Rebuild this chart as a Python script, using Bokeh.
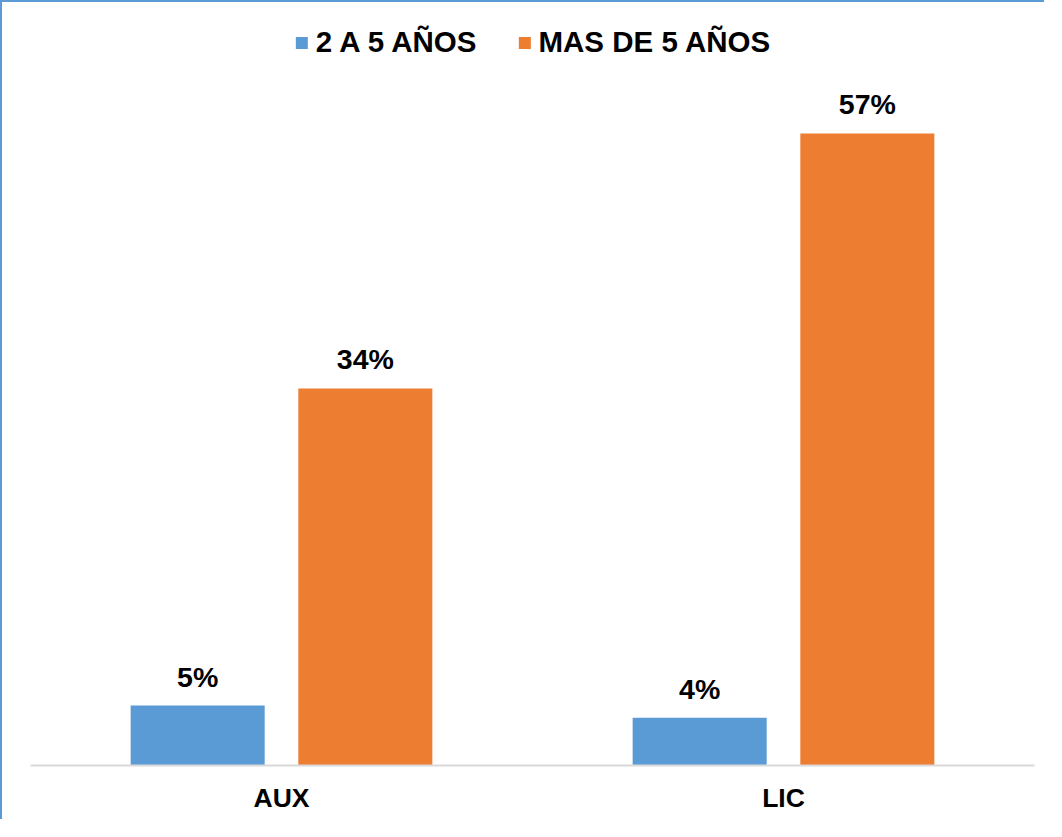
from bokeh.plotting import figure
from bokeh.models import ColumnDataSource, FactorRange, Range1d, Legend, LegendItem
from bokeh.transform import dodge
from bokeh.core.properties import value
from bokeh.embed import file_html
from bokeh.resources import INLINE

categories = ["AUX", "LIC"]
series_names = ["2 A 5 AÑOS", "MAS DE 5 AÑOS"]
v_2a5 = [5.4, 4.3]
v_mas5 = [34, 57]
colors = ["#5b9bd5", "#ed7d31"]

FONT = "Liberation Sans"

src = ColumnDataSource(dict(
    cat=categories,
    a=v_2a5,
    b=v_mas5,
    la=[f"{round(v)}%" for v in v_2a5],
    lb=[f"{round(v)}%" for v in v_mas5],
))

p = figure(x_range=FactorRange(*categories, range_padding=0),
           y_range=Range1d(0, 67.9),
           width=1044, height=819,
           output_backend="svg", toolbar_location=None,
           min_border_left=28, min_border_right=12,
           min_border_top=10, min_border_bottom=56)
p.styles = {"border-left": "2px solid #5b9bd5", "border-top": "2px solid #5b9bd5"}

off = 0.167
bw = 0.267
r1 = p.vbar(x=dodge("cat", -off, range=p.x_range), top="a", width=bw, source=src,
            fill_color=colors[0], line_color=None)
r2 = p.vbar(x=dodge("cat", off, range=p.x_range), top="b", width=bw, source=src,
            fill_color=colors[1], line_color=None)

p.text(x=dodge("cat", -off, range=p.x_range), y="a", text="la", source=src,
       text_align="center", text_baseline="alphabetic", y_offset=-29,
       text_font=value(FONT), text_font_style="bold", text_font_size="28.5px",
       text_color="#000000")
p.text(x=dodge("cat", off, range=p.x_range), y="b", text="lb", source=src,
       text_align="center", text_baseline="alphabetic", y_offset=-29,
       text_font=value(FONT), text_font_style="bold", text_font_size="28.5px",
       text_color="#000000")

legend = Legend(items=[LegendItem(label=series_names[0], renderers=[r1]),
                       LegendItem(label=series_names[1], renderers=[r2])],
                location="top_center", orientation="horizontal",
                glyph_width=15, glyph_height=15, label_standoff=7, spacing=40,
                padding=0, margin=13, border_line_color=None,
                background_fill_alpha=0,
                label_text_font=FONT, label_text_font_style="bold",
                label_text_font_size="29.5px", label_text_color="#000000")
p.add_layout(legend)

p.xgrid.grid_line_color = None
p.ygrid.grid_line_color = None
p.outline_line_color = None
p.yaxis.visible = False
p.xaxis.axis_line_color = "#d9d9d9"
p.xaxis.axis_line_width = 2
p.xaxis.major_tick_line_color = None
p.xaxis.minor_tick_line_color = None
p.xaxis.major_label_standoff = 11
p.xaxis.major_label_text_font = FONT
p.xaxis.major_label_text_font_style = "bold"
p.xaxis.major_label_text_font_size = "26.5px"
p.xaxis.major_label_text_color = "#000000"

open("out.html", "w").write(file_html(p, INLINE))
